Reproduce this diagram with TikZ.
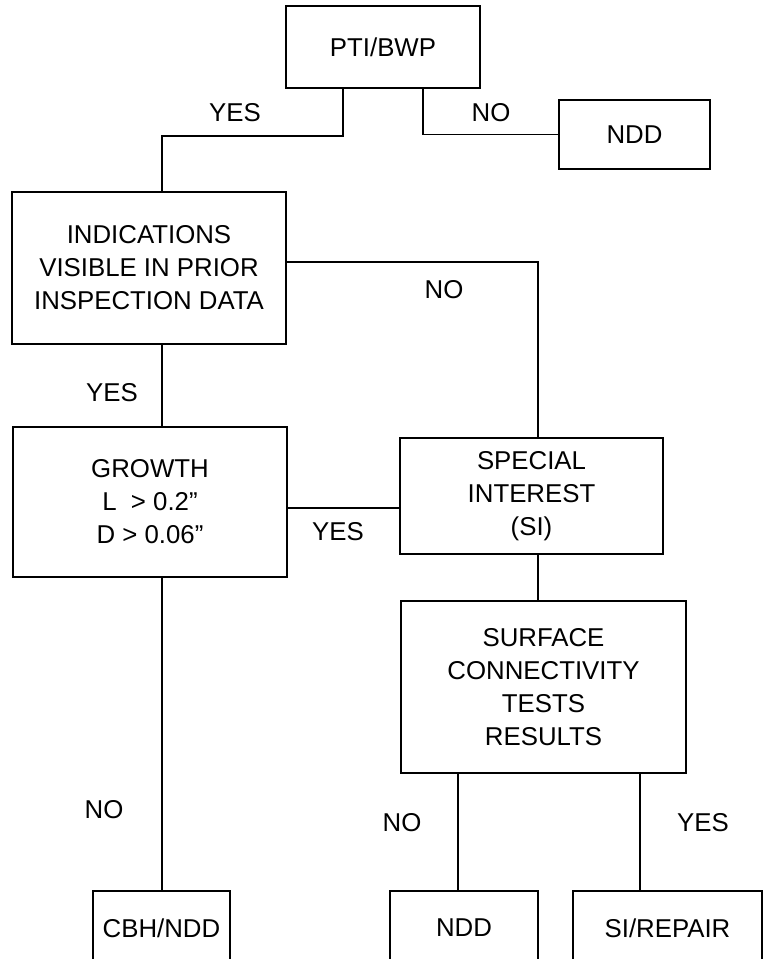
\documentclass[tikz,border=0pt]{standalone}
\usepackage{fontspec}
\setmainfont{Liberation Sans}
\begin{document}
\begin{tikzpicture}[x=1pt,y=-1pt,line width=1.8pt,
  txt/.style={font=\fontsize{25.8}{33}\selectfont,inner sep=0pt},
  box/.style={txt,draw,align=center}]
\useasboundingbox (0,0) rectangle (767,959);
\clip (0,0) rectangle (767,959);
\node[box,minimum width=194pt,minimum height=82pt] (pti) at (383,47) {PTI/BWP};
\node[box,minimum width=151pt,minimum height=69pt] (nddtop) at (634.5,134.5) {NDD};
\node[box,minimum width=274pt,minimum height=152pt] (ind) at (149,268) {INDICATIONS\\VISIBLE IN PRIOR\\INSPECTION DATA};
\node[box,minimum width=274pt,minimum height=150pt] (grow) at (150,502) {GROWTH\\L\ \ > 0.2”\\D > 0.06”};
\node[box,minimum width=263pt,minimum height=116pt] (si) at (531.5,496) {SPECIAL\\INTEREST\\(SI)};
\node[box,minimum width=285pt,minimum height=172pt] (surf) at (543.5,687) {SURFACE\\CONNECTIVITY\\TESTS\\RESULTS};
\node[box,minimum width=137pt,minimum height=74pt] (cbh) at (161.5,928) {CBH/NDD};
\node[box,minimum width=148pt,minimum height=74pt] (nddbot) at (464,928) {NDD};
\node[box,minimum width=189pt,minimum height=74pt] (repair) at (667.5,928) {SI/REPAIR};
\node[txt] (y1) at (235,113) {YES};
\node[txt] (n1) at (491,113) {NO};
\node[txt] (n2) at (444,290) {NO};
\node[txt] (y2) at (112,393) {YES};
\node[txt] (y3) at (338,532) {YES};
\node[txt] (n3) at (104,810) {NO};
\node[txt] (n4) at (402,823) {NO};
\node[txt] (y4) at (703,823) {YES};
\draw ([xshift=-40pt]pti.south) -- ++(0,47) -| ([xshift=13pt]ind.north);
\draw ([xshift=40pt]pti.south) |- (nddtop.west);
\draw ([yshift=6pt]ind.east) -| ([xshift=6.5pt]si.north);
\draw ([xshift=13pt]ind.south) -- ([xshift=12pt]grow.north);
\draw ([yshift=-6pt]grow.east) -- ([yshift=-6pt]grow.east -| si.west);
\draw ([xshift=6.5pt]si.south) -- ([xshift=6.5pt]si.south |- surf.north);
\draw ([xshift=12pt]grow.south) -- ([xshift=12pt]grow.south |- cbh.north);
\draw ([xshift=-85.5pt]surf.south) -- ([xshift=-85.5pt]surf.south |- nddbot.north);
\draw ([xshift=96.5pt]surf.south) -- ([xshift=96.5pt]surf.south |- repair.north);
\end{tikzpicture}
\end{document}
